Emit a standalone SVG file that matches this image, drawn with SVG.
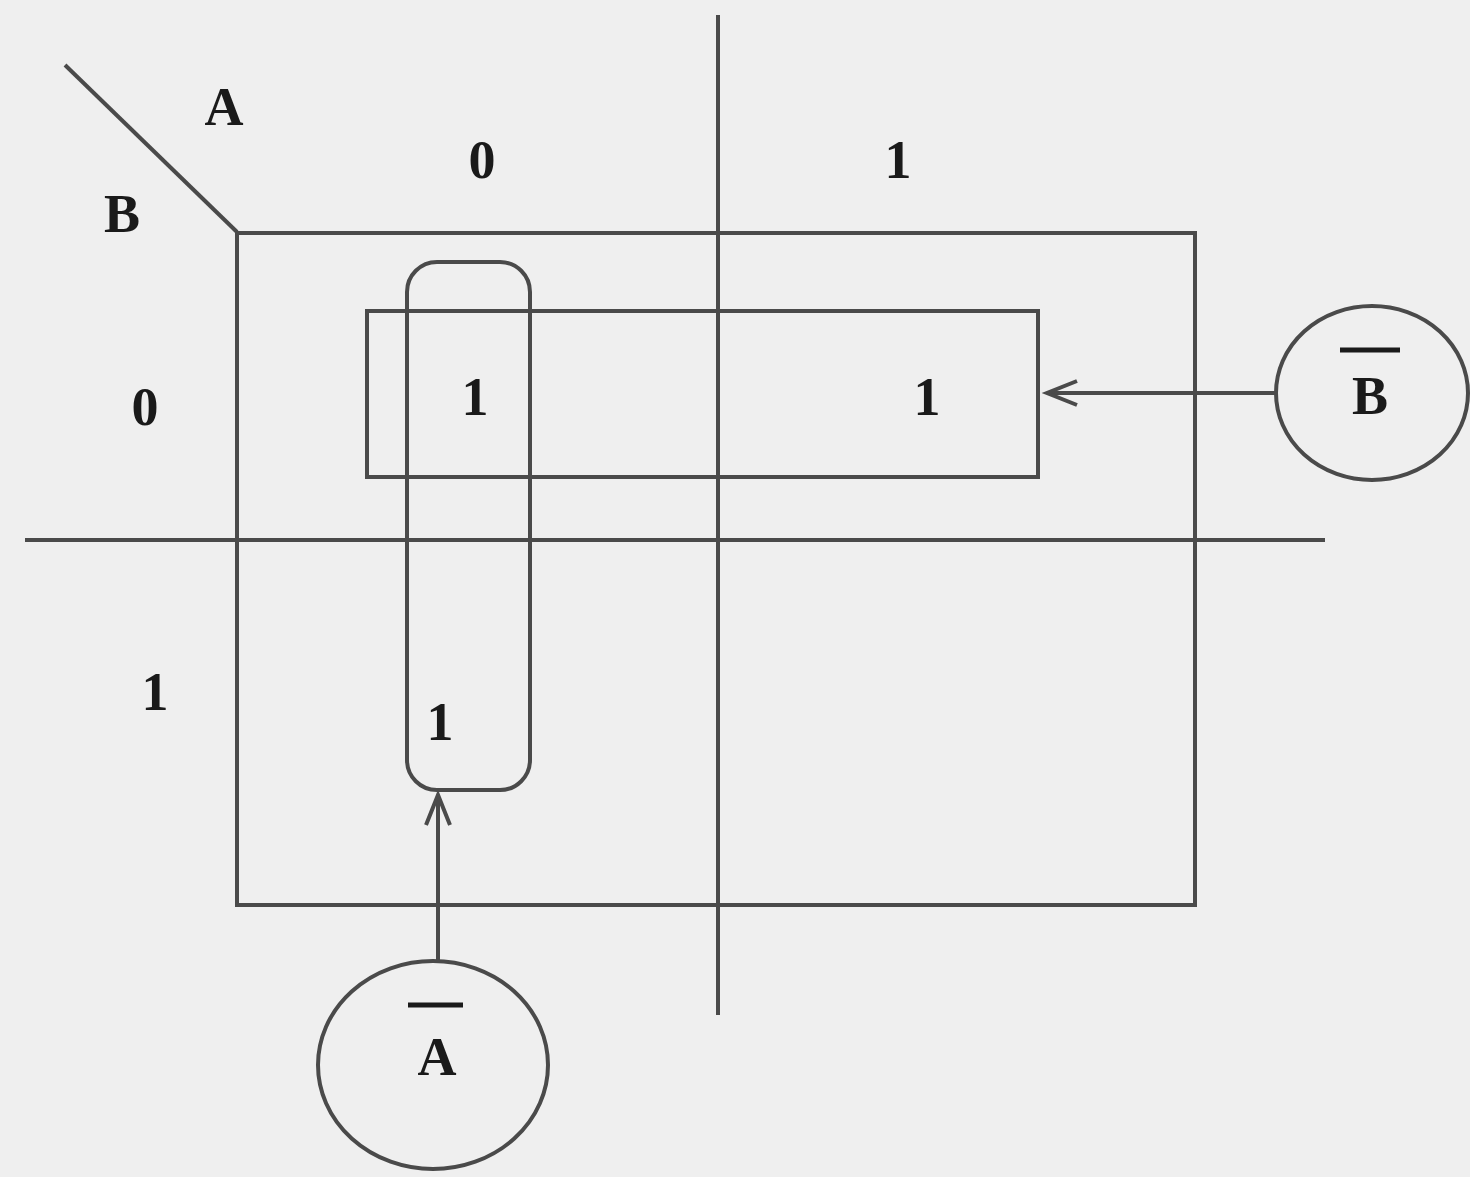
<svg xmlns="http://www.w3.org/2000/svg" width="1470" height="1177" viewBox="0 0 1470 1177">
<style>
.ln{stroke:#4a4a4a;stroke-width:4;fill:none}
.t{font-family:"Liberation Serif",serif;font-weight:bold;font-size:54px;fill:#1a1a1a;text-anchor:middle}
</style>
<defs>
<marker id="ah" markerWidth="40" markerHeight="30" refX="34" refY="15" orient="auto" markerUnits="userSpaceOnUse">
<path d="M4,3 L34,15 L4,27" stroke="#4a4a4a" stroke-width="4" fill="none"/>
</marker>
</defs>
<rect width="1470" height="1177" fill="#efefef"/>
<g id="grid">
<line class="ln" x1="65" y1="65" x2="237" y2="232"/>
<rect class="ln" x="237" y="233" width="958" height="672"/>
<line class="ln" x1="718" y1="15" x2="718" y2="1015"/>
<line class="ln" x1="25" y1="540" x2="1325" y2="540"/>
<text class="t" x="224" y="125">A</text>
<text class="t" x="122" y="232">B</text>
<text class="t" x="482" y="178">0</text>
<text class="t" x="898" y="178">1</text>
<text class="t" x="145" y="425">0</text>
<text class="t" x="155" y="710">1</text>
<text class="t" x="475" y="415">1</text>
<text class="t" x="927" y="415">1</text>
<text class="t" x="440" y="740">1</text>
</g>
<g id="groupB">
<rect class="ln" x="367" y="311" width="671" height="166"/>
</g>
<g id="groupA">
<rect class="ln" x="407" y="262" width="123" height="528" rx="30" ry="30"/>
</g>
<g id="nodeBbar">
<ellipse class="ln" cx="1372" cy="393" rx="96" ry="87"/>
<line x1="1340" y1="350" x2="1400" y2="350" stroke="#1a1a1a" stroke-width="5"/>
<text class="t" x="1370" y="414">B</text>
</g>
<g id="nodeAbar">
<ellipse class="ln" cx="433" cy="1065" rx="115" ry="104"/>
<line x1="408" y1="1005" x2="463" y2="1005" stroke="#1a1a1a" stroke-width="5"/>
<text class="t" x="437" y="1075">A</text>
</g>
<g id="connectors">
<line class="ln" x1="1276" y1="393" x2="1047" y2="393" marker-end="url(#ah)"/>
<line class="ln" x1="438" y1="961" x2="438" y2="795" marker-end="url(#ah)"/>
</g>
</svg>
